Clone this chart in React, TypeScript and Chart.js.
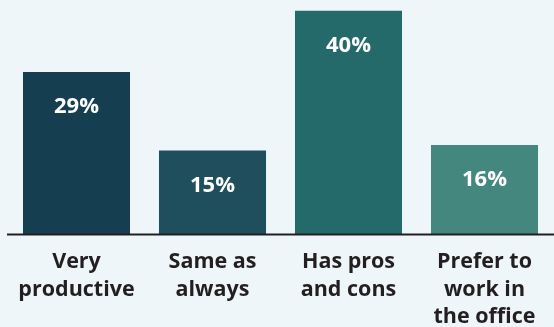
import React, { useEffect, useRef } from "react";
import { Chart, registerables } from "chart.js";

Chart.register(...registerables);

const categories: string[][] = [
  ["Very", "productive"],
  ["Same as", "always"],
  ["Has pros", "and cons"],
  ["Prefer to", "work in", "the office"],
];
const values: number[] = [29, 15, 40, 16];
const valueLabels: string[] = ["29%", "15%", "40%", "16%"];
const barColors: string[] = ["#153e50", "#1f4f5d", "#256a6b", "#44877e"];

const FONT = "'Open Sans', 'Noto Sans', sans-serif";

const valueLabelPlugin = {
  id: "valueLabels",
  afterDatasetsDraw(chart: any) {
    const ctx = chart.ctx;
    const meta = chart.getDatasetMeta(0);
    ctx.save();
    ctx.fillStyle = "#ffffff";
    ctx.font = `bold 22px ${FONT}`;
    ctx.textAlign = "center";
    ctx.textBaseline = "middle";
    meta.data.forEach((bar: any, i: number) => {
      ctx.fillText(valueLabels[i], bar.x, bar.y + 35);
    });
    ctx.restore();
  },
};

const baselinePlugin = {
  id: "baseline",
  afterDatasetsDraw(chart: any) {
    const ctx = chart.ctx;
    const y = chart.scales.y.getPixelForValue(0);
    ctx.save();
    ctx.strokeStyle = "#231f20";
    ctx.lineWidth = 2;
    ctx.beginPath();
    ctx.moveTo(7, y);
    ctx.lineTo(chart.width, y);
    ctx.stroke();
    ctx.restore();
  },
};

const bgPlugin = {
  id: "bg",
  beforeDraw(chart: any) {
    const ctx = chart.ctx;
    ctx.save();
    ctx.fillStyle = "#eef6f9";
    ctx.fillRect(0, 0, chart.width, chart.height);
    ctx.restore();
  },
};

export default function App() {
  const ref = useRef<HTMLCanvasElement>(null);
  useEffect(() => {
    if (!ref.current) return;
    const chart = new Chart(ref.current, {
      type: "bar",
      data: {
        labels: categories,
        datasets: [
          {
            data: values,
            backgroundColor: barColors,
            barPercentage: 0.787,
            categoryPercentage: 1,
          },
        ],
      },
      options: {
        animation: false,
        responsive: false,
        maintainAspectRatio: false,
        layout: { padding: { left: 8.5, right: 1.5, top: 10.5, bottom: 0 } },
        plugins: {
          legend: { display: false },
          tooltip: { enabled: false },
        },
        scales: {
          x: {
            grid: { display: false, drawTicks: false },
            border: { display: false },
            ticks: {
              color: "#231f20",
              padding: 14,
              font: { family: FONT, size: 21.5, weight: "bold", lineHeight: 1.27 },
              maxRotation: 0,
              autoSkip: false,
            },
            afterFit(scale: any) {
              scale.height = 92.5;
            },
          },
          y: {
            display: false,
            min: 0,
            max: 40,
          },
        },
      },
      plugins: [bgPlugin, valueLabelPlugin, baselinePlugin],
    });
    return () => chart.destroy();
  }, []);
  return (
    <div style={{ position: "absolute", left: 0, top: 0, width: 554, height: 327 }}>
      <canvas ref={ref} width={554} height={327} style={{ display: "block" }} />
    </div>
  );
}
